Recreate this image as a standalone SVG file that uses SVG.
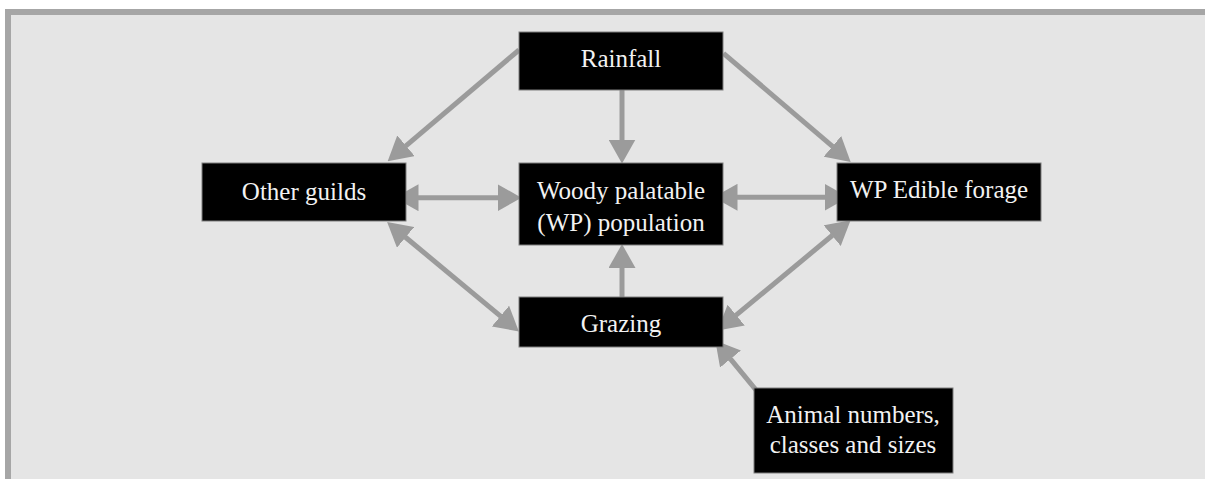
<svg xmlns="http://www.w3.org/2000/svg" width="1205" height="479" viewBox="0 0 1205 479">
  <defs>
    <style>
      .box { fill: #000000; stroke: #7f7f7f; stroke-width: 1; }
      .lbl { font-family: "Liberation Serif", "Times New Roman", serif; font-size: 25px; fill: #f2f2f2; text-anchor: middle; }
      .conn { stroke: #9b9b9b; stroke-width: 5; fill: none; stroke-linecap: butt; }
      .one { marker-end: url(#head); }
      .two { marker-start: url(#head); marker-end: url(#head); }
    </style>
    <marker id="head" markerUnits="userSpaceOnUse" viewBox="0 0 24 27" markerWidth="24" markerHeight="27" refX="0.5" refY="13.5" orient="auto-start-reverse">
      <path d="M0,0 L24,13.5 L0,27 Z" fill="#9b9b9b"/>
    </marker>
  </defs>

  <rect x="8" y="12" width="1210" height="480" fill="#e5e5e5" stroke="#a6a6a6" stroke-width="6"/>

  <g id="connectors">
    <line class="conn one" x1="519" y1="50" x2="405.6" y2="146.1"/>
    <line class="conn one" x1="622" y1="90" x2="622" y2="140"/>
    <line class="conn one" x1="723.5" y1="53.3" x2="832.8" y2="146.7"/>
    <line class="conn two" x1="418" y1="197.7" x2="498" y2="197.7"/>
    <line class="conn two" x1="737" y1="197.3" x2="825" y2="197.3"/>
    <line class="conn one" x1="622" y1="297" x2="622" y2="267.5"/>
    <line class="conn two" x1="405.2" y1="237" x2="500.8" y2="316.4"/>
    <line class="conn two" x1="832.5" y1="235.3" x2="735.8" y2="315.4"/>
    <line class="conn one" x1="765" y1="401" x2="730.2" y2="358.6"/>
  </g>

  <g id="rainfall">
    <rect class="box" x="519" y="32" width="204" height="58"/>
    <text class="lbl" x="621" y="67">Rainfall</text>
  </g>

  <g id="other-guilds">
    <rect class="box" x="202" y="163" width="204" height="58"/>
    <text class="lbl" x="304" y="200">Other guilds</text>
  </g>

  <g id="wp-population">
    <rect class="box" x="519" y="163" width="204" height="82"/>
    <text class="lbl" x="621" y="199">Woody palatable</text>
    <text class="lbl" x="621" y="231">(WP) population</text>
  </g>

  <g id="wp-edible-forage">
    <rect class="box" x="837" y="163" width="204" height="58"/>
    <text class="lbl" x="939" y="198">WP Edible forage</text>
  </g>

  <g id="grazing">
    <rect class="box" x="519" y="297" width="204" height="50"/>
    <text class="lbl" x="621" y="332">Grazing</text>
  </g>

  <g id="animal-numbers">
    <rect class="box" x="754" y="388" width="199" height="85"/>
    <text class="lbl" x="853" y="423">Animal numbers,</text>
    <text class="lbl" x="853" y="453">classes and sizes</text>
  </g>
</svg>
